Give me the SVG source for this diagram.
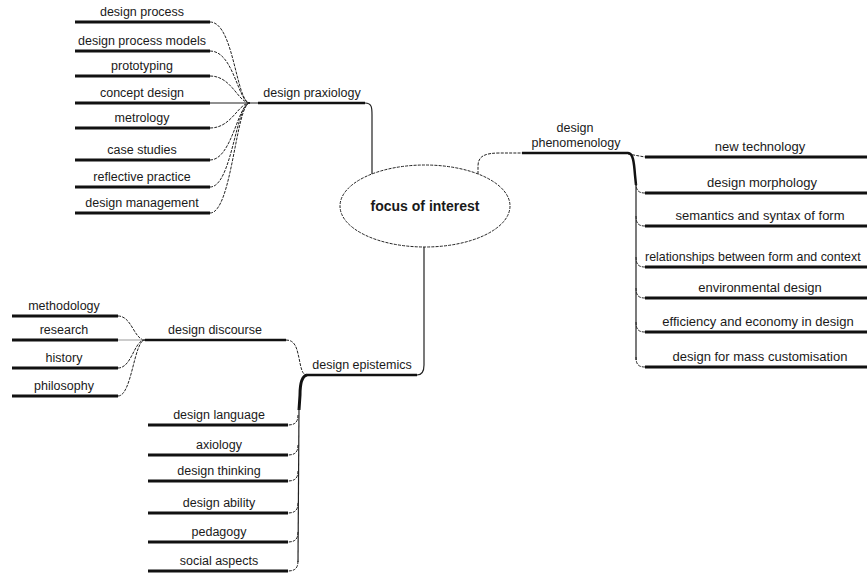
<svg xmlns="http://www.w3.org/2000/svg" width="867" height="573" viewBox="0 0 867 573">
<style>
text{font-family:"Liberation Sans",Arial,sans-serif;font-size:12.5px;fill:#1a1a1a;text-anchor:middle}
.r text{font-size:13px}
.leaf{stroke:#111;stroke-width:3;fill:none}
.mid{stroke:#111;stroke-width:2.5;fill:none}
.con{stroke:#222;stroke-width:1;fill:none;stroke-dasharray:3 1.2}
.sol{stroke:#222;stroke-width:1.2;fill:none}
.thk{stroke:#111;stroke-width:2.5;fill:none}
.b{font-weight:bold;font-size:14px}
</style>
<rect width="867" height="573" fill="#fff"/>
<g id="connectors">
  <path class="con" d="M210,22 C234,22 236,103 250,103"/>
  <path class="con" d="M210,51 C234,51 238,103 250,103"/>
  <path class="con" d="M210,76 C232,76 238,103 250,103"/>
  <path class="sol" d="M210,103 L258,103"/>
  <path class="con" d="M210,128 C232,128 238,103 250,103"/>
  <path class="con" d="M210,160 C232,160 238,103 250,103"/>
  <path class="con" d="M210,187 C232,187 236,103 250,103"/>
  <path class="con" d="M210,213 C232,213 236,103 250,103"/>
  <path class="sol" d="M365,103 C372,103 372,108 372,115 L372,174"/>
  <path class="con" d="M478,174 L478,166 C478,156 485,153 500,153 L522,153"/>
  <path class="con" d="M628,154 L645,157"/>
  <path class="thk" d="M628,153 C633,153 634,162 635,175 L636,185"/>
  <path class="sol" d="M636,185 L636,360"/>
  <path class="con" d="M636,183 C636,190 638,193 645,193"/>
  <path class="con" d="M636,216 C636,223 638,226 645,226"/>
  <path class="con" d="M636,257 C636,264 638,267 645,267"/>
  <path class="con" d="M636,288 C636,295 638,298 645,298"/>
  <path class="con" d="M636,322 C636,329 638,332 645,332"/>
  <path class="con" d="M636,357 C636,364 638,367 645,367"/>
  <path class="sol" d="M424,247 L424,365 C424,372 422,375 417,375"/>
  <path class="con" d="M286,340 C296,340 297,350 299,358 C301,368 302,375 307,375"/>
  <path class="con" d="M118,316 C132,316 134,340 145,340"/>
  <path d="M118,340 L145,340" stroke="#999" stroke-width="1" fill="none"/>
  <path class="con" d="M118,368 C132,368 134,340 145,340"/>
  <path class="con" d="M118,396 C132,396 134,340 145,340"/>
  <path d="M307,375 C302,376 300,384 300,395 L299,410" stroke="#111" stroke-width="3" fill="none"/>
  <path class="sol" d="M299,408 L298,562"/>
  <path class="con" d="M298,415 C298,422 295,425 288,425"/>
  <path class="con" d="M298,445 C298,452 295,455 288,455"/>
  <path class="con" d="M298,471 C298,478 295,481 288,481"/>
  <path class="con" d="M298,503 C298,510 295,513 288,513"/>
  <path class="con" d="M298,532 C298,539 295,542 288,542"/>
  <path class="con" d="M298,561 C298,568 295,571 288,571"/>
</g>
<g id="focus">
  <ellipse cx="425" cy="206" rx="85" ry="41" class="con"/>
  <text class="b" x="425" y="211">focus of interest</text>
</g>
<g id="praxiology">
  <line class="mid" x1="258" y1="103" x2="365" y2="103"/>
  <text x="312" y="97">design praxiology</text>
</g>
<g id="prax-children">
  <g id="design-process"><line class="leaf" x1="75" y1="22" x2="210" y2="22"/><text x="142" y="16">design process</text></g>
  <g id="design-process-models"><line class="leaf" x1="75" y1="51" x2="210" y2="51"/><text x="142" y="45">design process models</text></g>
  <g id="prototyping"><line class="leaf" x1="75" y1="76" x2="210" y2="76"/><text x="142" y="70">prototyping</text></g>
  <g id="concept-design"><line class="leaf" x1="75" y1="103" x2="210" y2="103"/><text x="142" y="97">concept design</text></g>
  <g id="metrology"><line class="leaf" x1="75" y1="128" x2="210" y2="128"/><text x="142" y="122">metrology</text></g>
  <g id="case-studies"><line class="leaf" x1="75" y1="160" x2="210" y2="160"/><text x="142" y="154">case studies</text></g>
  <g id="reflective-practice"><line class="leaf" x1="75" y1="187" x2="210" y2="187"/><text x="142" y="181">reflective practice</text></g>
  <g id="design-management"><line class="leaf" x1="75" y1="213" x2="210" y2="213"/><text x="142" y="207">design management</text></g>
</g>
<g id="phenomenology">
  <line class="mid" x1="522" y1="153" x2="628" y2="153"/>
  <text x="575" y="132">design</text>
  <text x="576" y="147">phenomenology</text>
</g>
<g id="phen-children" class="r">
  <g id="new-technology"><line class="leaf" x1="645" y1="157" x2="867" y2="157"/><text x="760" y="151">new technology</text></g>
  <g id="design-morphology"><line class="leaf" x1="645" y1="193" x2="867" y2="193"/><text x="762" y="187">design morphology</text></g>
  <g id="semantics"><line class="leaf" x1="645" y1="226" x2="867" y2="226"/><text x="760" y="220">semantics and syntax of form</text></g>
  <g id="relationships"><line class="leaf" x1="645" y1="267" x2="867" y2="267"/><text x="645" y="261" style="text-anchor:start;font-size:12.4px">relationships between form and context</text></g>
  <g id="environmental"><line class="leaf" x1="645" y1="298" x2="867" y2="298"/><text x="760" y="292">environmental design</text></g>
  <g id="efficiency"><line class="leaf" x1="645" y1="332" x2="867" y2="332"/><text x="758" y="326">efficiency and economy in design</text></g>
  <g id="mass-customisation"><line class="leaf" x1="645" y1="367" x2="867" y2="367"/><text x="760" y="361">design for mass customisation</text></g>
</g>
<g id="epistemics">
  <line class="mid" x1="307" y1="375" x2="417" y2="375"/>
  <text x="362" y="369">design epistemics</text>
</g>
<g id="discourse">
  <line class="mid" x1="145" y1="340" x2="286" y2="340"/>
  <text x="215" y="334">design discourse</text>
</g>
<g id="disc-children">
  <g id="methodology"><line class="leaf" x1="12" y1="316" x2="118" y2="316"/><text x="64" y="310">methodology</text></g>
  <g id="research"><line class="leaf" x1="12" y1="340" x2="118" y2="340"/><text x="64" y="334">research</text></g>
  <g id="history"><line class="leaf" x1="12" y1="368" x2="118" y2="368"/><text x="64" y="362">history</text></g>
  <g id="philosophy"><line class="leaf" x1="12" y1="396" x2="118" y2="396"/><text x="64" y="390">philosophy</text></g>
</g>
<g id="epis-children">
  <g id="design-language"><line class="leaf" x1="148" y1="425" x2="288" y2="425"/><text x="219" y="419">design language</text></g>
  <g id="axiology"><line class="leaf" x1="148" y1="455" x2="288" y2="455"/><text x="219" y="449">axiology</text></g>
  <g id="design-thinking"><line class="leaf" x1="148" y1="481" x2="288" y2="481"/><text x="219" y="475">design thinking</text></g>
  <g id="design-ability"><line class="leaf" x1="148" y1="513" x2="288" y2="513"/><text x="219" y="507">design ability</text></g>
  <g id="pedagogy"><line class="leaf" x1="148" y1="542" x2="288" y2="542"/><text x="219" y="536">pedagogy</text></g>
  <g id="social-aspects"><line class="leaf" x1="148" y1="571" x2="288" y2="571"/><text x="219" y="565">social aspects</text></g>
</g>
</svg>
